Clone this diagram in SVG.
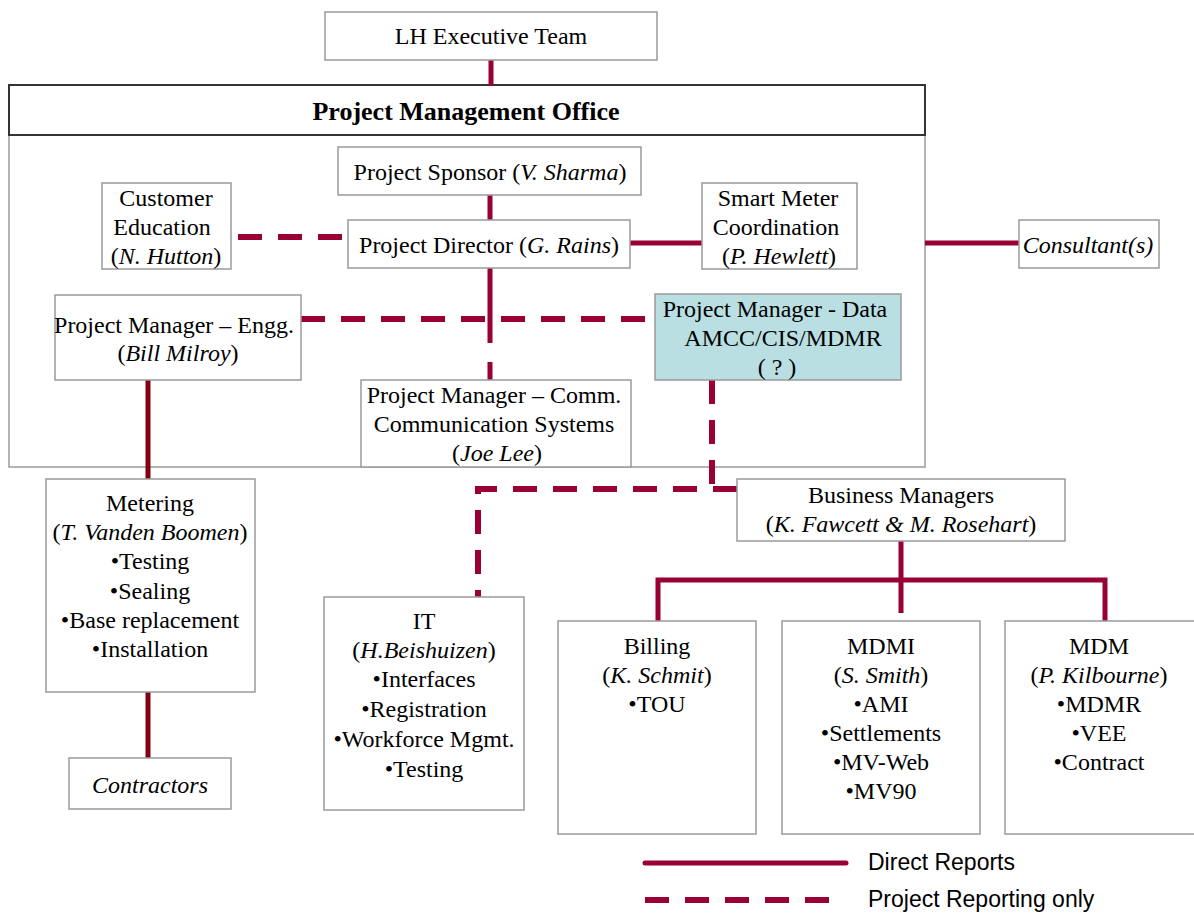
<svg xmlns="http://www.w3.org/2000/svg" width="1194" height="913" viewBox="0 0 1194 913">
<style>
.box{fill:#fff;stroke:#9a9a9a;stroke-width:1.5}
.t{font-family:"Liberation Serif","Times New Roman",serif;font-size:24px;fill:#000;text-anchor:middle;dominant-baseline:central}
.i{font-style:italic}
.s{stroke:#990033;stroke-width:5;fill:none}
.d{stroke:#990033;stroke-width:6;fill:none;stroke-dasharray:24 16}
.dk{stroke:#800010;stroke-width:5;fill:none}
.lg{font-family:"Liberation Sans",Arial,sans-serif;font-size:23px;fill:#000;dominant-baseline:central}
</style>
<rect width="1194" height="913" fill="#fff"/>
<g id="pmo">
<rect x="9" y="135" width="916" height="332" fill="#fff" stroke="#9a9a9a" stroke-width="1.5"/>
<rect x="9" y="85" width="916" height="50" fill="#fff" stroke="#333" stroke-width="2"/>
<text class="t" x="466" y="111" style="font-size:26px;font-weight:bold">Project Management Office</text>
</g>
<g id="connectors">
<line class="s" x1="491" y1="60" x2="491" y2="86"/>
<line class="s" x1="490" y1="195" x2="490" y2="220"/>
<line class="d" x1="238" y1="237" x2="346" y2="237"/>
<line class="s" x1="630" y1="243" x2="702" y2="243"/>
<line class="s" x1="925" y1="243" x2="1020" y2="243"/>
<line class="s" x1="490" y1="268" x2="490" y2="343"/>
<line class="s" x1="490" y1="362" x2="490" y2="380"/>
<line class="d" x1="301" y1="319" x2="655" y2="319"/>
<line class="dk" x1="148" y1="380" x2="148" y2="480"/>
<line class="dk" x1="148" y1="688" x2="148" y2="762"/>
<path class="d" d="M712 380 V489"/>
<path class="d" d="M737 489 H478 V598"/>
<line class="s" x1="901" y1="541" x2="901" y2="613"/>
<path class="s" d="M658 622 V580 H1105 V622"/>
</g>
<g id="exec"><rect class="box" x="325" y="12" width="332" height="48"/><text class="t" x="491" y="36">LH Executive Team</text></g>
<g id="sponsor"><rect class="box" x="338" y="147" width="303" height="48"/><text class="t" x="490" y="172">Project Sponsor (<tspan class="i">V. Sharma</tspan>)</text></g>
<g id="director"><rect class="box" x="348" y="220" width="282" height="48"/><text class="t" x="489" y="245">Project Director (<tspan class="i">G. Rains</tspan>)</text></g>
<g id="custed"><rect class="box" x="102" y="183" width="129" height="86"/>
<text class="t" x="166" y="198">Customer</text><text class="t" x="162" y="227">Education</text><text class="t" x="166" y="256">(<tspan class="i">N. Hutton</tspan>)</text></g>
<g id="smartmeter"><rect class="box" x="702" y="183" width="155" height="86"/>
<text class="t" x="778" y="198">Smart Meter</text><text class="t" x="776" y="227">Coordination</text><text class="t" x="779" y="256">(<tspan class="i">P. Hewlett</tspan>)</text></g>
<g id="consultants"><rect class="box" x="1019" y="220" width="140" height="48"/><text class="t i" x="1088" y="245">Consultant(s)</text></g>
<g id="pmengg"><rect class="box" x="55" y="295" width="246" height="85"/>
<text class="t" x="174" y="325">Project Manager – Engg.</text><text class="t" x="178" y="353">(<tspan class="i">Bill Milroy</tspan>)</text></g>
<g id="pmdata"><rect x="655" y="294" width="246" height="86" fill="#b9dfe2" stroke="#9a9a9a" stroke-width="1.5"/>
<text class="t" x="775" y="309">Project Manager - Data</text><text class="t" x="783" y="338">AMCC/CIS/MDMR</text><text class="t" x="777" y="367">( ? )</text></g>
<g id="pmcomm"><rect class="box" x="361" y="380" width="270" height="87"/>
<text class="t" x="494" y="395">Project Manager – Comm.</text><text class="t" x="494" y="424">Communication Systems</text><text class="t" x="497" y="453">(<tspan class="i">Joe Lee</tspan>)</text></g>
<g id="metering"><rect class="box" x="46" y="479" width="209" height="213"/>
<text class="t" x="150" y="503">Metering</text><text class="t" x="150" y="532">(<tspan class="i">T. Vanden Boomen</tspan>)</text>
<text class="t" x="150" y="561">•Testing</text><text class="t" x="150" y="591">•Sealing</text><text class="t" x="150" y="620">•Base replacement</text><text class="t" x="150" y="649">•Installation</text></g>
<g id="contractors"><rect class="box" x="69" y="758" width="162" height="51"/><text class="t i" x="150" y="785">Contractors</text></g>
<g id="bizmgr"><rect class="box" x="737" y="479" width="328" height="62"/>
<text class="t" x="901" y="495">Business Managers</text><text class="t" x="901" y="524">(<tspan class="i">K. Fawcett &amp; M. Rosehart</tspan>)</text></g>
<g id="it"><rect class="box" x="324" y="597" width="200" height="213"/>
<text class="t" x="424" y="621">IT</text><text class="t" x="424" y="650">(<tspan class="i">H.Beishuizen</tspan>)</text>
<text class="t" x="424" y="679">•Interfaces</text><text class="t" x="424" y="709">•Registration</text><text class="t" x="424" y="739">•Workforce Mgmt.</text><text class="t" x="424" y="769">•Testing</text></g>
<g id="billing"><rect class="box" x="558" y="621" width="198" height="213"/>
<text class="t" x="657" y="646">Billing</text><text class="t" x="657" y="675">(<tspan class="i">K. Schmit</tspan>)</text><text class="t" x="657" y="704">•TOU</text></g>
<g id="mdmi"><rect class="box" x="782" y="621" width="198" height="213"/>
<text class="t" x="881" y="646">MDMI</text><text class="t" x="881" y="675">(<tspan class="i">S. Smith</tspan>)</text>
<text class="t" x="881" y="704">•AMI</text><text class="t" x="881" y="733">•Settlements</text><text class="t" x="881" y="762">•MV-Web</text><text class="t" x="881" y="791">•MV90</text></g>
<g id="mdm"><rect class="box" x="1005" y="621" width="198" height="213"/>
<text class="t" x="1099" y="646">MDM</text><text class="t" x="1099" y="675">(<tspan class="i">P. Kilbourne</tspan>)</text>
<text class="t" x="1099" y="704">•MDMR</text><text class="t" x="1099" y="733">•VEE</text><text class="t" x="1099" y="762">•Contract</text></g>
<g id="legend">
<line class="s" x1="645" y1="863" x2="846" y2="863" stroke-linecap="round"/>
<line class="d" x1="645" y1="900" x2="840" y2="900"/>
<text class="lg" x="868" y="862">Direct Reports</text>
<text class="lg" x="868" y="899">Project Reporting only</text>
</g>
</svg>
